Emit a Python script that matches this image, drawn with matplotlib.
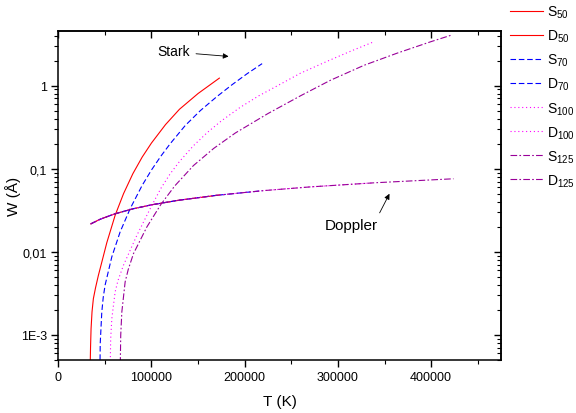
import matplotlib
matplotlib.use("Agg")
import matplotlib.pyplot as plt

plt.rcParams['font.family'] = ['Liberation Sans', 'DejaVu Sans']

# Stark widths (T in K, W in Angstrom)
S50_T = [34000, 34600, 35160, 36200, 37640, 40000, 43010, 47000, 52040, 61000, 70000,
         80000, 90000, 100000, 115000, 130000, 150000, 172800]
S50_W = [3.16e-4, 7.08e-4, 1.19e-3, 1.905e-3, 2.735e-3, 3.715e-3, 5.21e-3, 7.76e-3, 0.01288,
         0.02754, 0.0501, 0.0871, 0.138, 0.204, 0.339, 0.519, 0.8035, 1.230]

S70_T = [44500, 45000, 46670, 48200, 50220, 57420, 66350, 77100, 90000, 100000, 110000,
         120000, 136200, 152400, 170000, 186500, 202600, 218700]
S70_W = [2.51e-4, 7.94e-4, 1.89e-3, 2.82e-3, 3.98e-3, 8.71e-3, 0.01738, 0.0331, 0.0631,
         0.0966, 0.1413, 0.1995, 0.331, 0.500, 0.735, 1.026, 1.390, 1.837]

S100_T = [55500, 56200, 57420, 60970, 64000, 69900, 84300, 98600, 110000, 120000, 130000,
          145000, 160000, 175000, 195000, 215000, 238400, 260000, 290000, 315000, 337000]
S100_W = [3.16e-4, 8.91e-4, 1.57e-3, 3.29e-3, 4.50e-3, 6.89e-3, 0.0158, 0.0331, 0.0579,
          0.0867, 0.122, 0.189, 0.2735, 0.3767, 0.546, 0.752, 1.042, 1.413, 1.995, 2.630, 3.311]

S125_T = [66300, 67000, 68170, 71720, 75000, 80650, 95060, 110000, 125000, 145000, 166700,
          190000, 225000, 260000, 292000, 328000, 364000, 400000, 421200]
S125_W = [3.16e-4, 1.0e-3, 1.89e-3, 4.345e-3, 6.11e-3, 9.51e-3, 0.01995, 0.0371, 0.0622,
          0.1091, 0.1754, 0.2692, 0.4613, 0.7551, 1.159, 1.754, 2.466, 3.381, 4.027]

# Doppler widths
D50_T = [34840, 45000, 60000, 80000, 100000, 130000, 172800]
D50_W = [0.0217, 0.0247, 0.0285, 0.0329, 0.0368, 0.0419, 0.0483]

D70_T = [34840, 45000, 60000, 80000, 100000, 130000, 170000, 218700]
D70_W = [0.0217, 0.0247, 0.0285, 0.0329, 0.0368, 0.0419, 0.0479, 0.0543]

D100_T = [34840, 45000, 60000, 80000, 100000, 130000, 170000, 220000, 270000, 337000]
D100_W = [0.0217, 0.0247, 0.0285, 0.0329, 0.0368, 0.0419, 0.0479, 0.0545, 0.0604, 0.0675]

D125_T = [34840, 45000, 60000, 80000, 100000, 130000, 170000, 220000, 270000, 340000, 424000]
D125_W = [0.0217, 0.0247, 0.0285, 0.0329, 0.0368, 0.0419, 0.0479, 0.0545, 0.0604, 0.0678, 0.0757]

fig = plt.figure(figsize=(5.76, 4.14), dpi=100)
ax = fig.add_axes([0.1012, 0.128, 0.7686, 0.794])

red = '#ff0000'
blue = '#0000ff'
mag = '#ff00ff'
pur = '#990099'
dash = (0, (5, 2.5))
dot = (0, (1, 2.5))
dashdot = (0, (6, 2, 1.5, 2))
lw = 0.8

ax.plot(S50_T, S50_W, color=red, lw=lw, ls='-', label=r'S$_{\mathregular{50}}$')
ax.plot(D50_T, D50_W, color=red, lw=lw, ls='-', label=r'D$_{\mathregular{50}}$')
ax.plot(S70_T, S70_W, color=blue, lw=lw, ls=dash, label=r'S$_{\mathregular{70}}$')
ax.plot(D70_T, D70_W, color=blue, lw=lw, ls=dash, label=r'D$_{\mathregular{70}}$')
ax.plot(S100_T, S100_W, color=mag, lw=lw, ls=dot, label=r'S$_{\mathregular{100}}$')
ax.plot(D100_T, D100_W, color=mag, lw=lw, ls=dot, label=r'D$_{\mathregular{100}}$')
ax.plot(S125_T, S125_W, color=pur, lw=lw, ls=dashdot, label=r'S$_{\mathregular{125}}$')
ax.plot(D125_T, D125_W, color=pur, lw=lw, ls=dashdot, label=r'D$_{\mathregular{125}}$')

ax.set_yscale('log')
ax.set_xlim(0, 475000)
ax.set_ylim(5e-4, 4.5)

ax.set_xticks([0, 100000, 200000, 300000, 400000])
ax.set_xticklabels(['0', '100000', '200000', '300000', '400000'])
ax.set_xticks([50000, 150000, 250000, 350000, 450000], minor=True)
ax.set_yticks([1e-3, 1e-2, 1e-1, 1])
ax.set_yticklabels(['1E-3', '0,01', '0,1', '1'])

ax.tick_params(which='major', direction='out', length=5, width=1, labelsize=9, pad=3)
ax.tick_params(which='minor', direction='out', length=3, width=0.8)
for s in ax.spines.values():
    s.set_linewidth(1.1)

top = ax.secondary_xaxis('top')
top.set_xticks([0, 100000, 200000, 300000, 400000])
top.set_xticks([50000, 150000, 250000, 350000, 450000], minor=True)
top.tick_params(which='major', direction='in', length=5, width=1, labeltop=False)
top.tick_params(which='minor', direction='in', length=3, width=0.8)
top.spines['top'].set_linewidth(1.1)

right = ax.secondary_yaxis('right')
right.set_yticks([1e-3, 1e-2, 1e-1, 1])
right.tick_params(which='major', direction='in', length=5, width=1, labelright=False)
right.tick_params(which='minor', direction='in', length=3, width=0.8, labelright=False)
right.spines['right'].set_linewidth(1.1)

ax.set_xlabel('T (K)', fontsize=11, labelpad=8)
ax.set_ylabel('W (Å)', fontsize=11, labelpad=0)

ax.annotate('', xy=(185700, 2.23), xytext=(144800, 2.43),
            arrowprops=dict(arrowstyle='-|>', color='black', lw=0.6, mutation_scale=8))
ax.text(123900, 2.59, 'Stark', fontsize=10, ha='center', va='center')
ax.annotate('', xy=(356700, 0.0535), xytext=(343400, 0.0275),
            arrowprops=dict(arrowstyle='-|>', color='black', lw=0.6, mutation_scale=8))
ax.text(314200, 0.0208, 'Doppler', fontsize=11, ha='center', va='center')

fig.legend(loc='upper left', bbox_to_anchor=(0.882, 0.993), frameon=False,
           fontsize=10, handlelength=2.4, handletextpad=0.28, labelspacing=0.55,
           borderpad=0.15, borderaxespad=0)

fig.savefig('out.png', dpi=100)
